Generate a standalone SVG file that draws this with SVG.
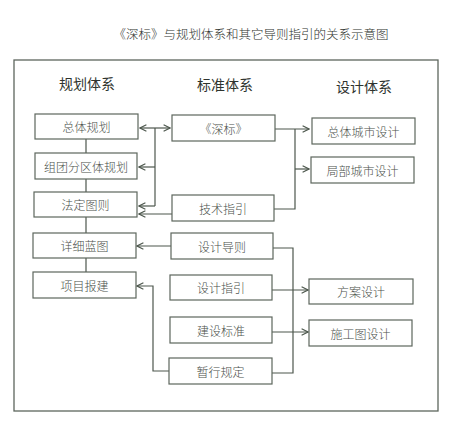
<svg xmlns="http://www.w3.org/2000/svg" width="466" height="427" viewBox="0 0 466 427">
<style>
text{font-family:"Noto Sans CJK SC","Noto Sans CJK JP",sans-serif;text-anchor:middle;dominant-baseline:central;fill:#3e443e}
.t{font-size:12.5px;font-weight:300;fill:#2e332e}
.h{font-size:14px;fill:#2e332e;font-weight:400}
.b{font-size:12px;fill:#4a504a;font-weight:300}
rect.n{fill:#fff;stroke:#5d665d;stroke-width:1.2}
.c path{fill:none;stroke:#4d574d;stroke-width:1.2}
</style>
<defs>
<marker id="a" viewBox="0 0 10 10" refX="9" refY="5" markerWidth="8" markerHeight="8" markerUnits="userSpaceOnUse" orient="auto-start-reverse">
<path d="M1,1 L9,5 L1,9" fill="none" stroke="#4d574d" stroke-width="1.4"/>
</marker>
</defs>
<rect width="466" height="427" fill="#fff"/>
<text class="t" x="251" y="33">《深标》与规划体系和其它导则指引的关系示意图</text>
<rect x="14" y="60" width="424" height="351" fill="none" stroke="#5d665d" stroke-width="1.3"/>
<text class="h" x="87" y="83">规划体系</text>
<text class="h" x="225" y="84">标准体系</text>
<text class="h" x="364" y="86">设计体系</text>
<g class="c">
<path d="M86,139V153M86,179V192M86,217V233M86,258V272"/>
<path d="M140,128H170" marker-start="url(#a)" marker-end="url(#a)"/>
<path d="M155,128V206"/>
<path d="M155,167H139" marker-end="url(#a)"/>
<path d="M155,206H139" marker-end="url(#a)"/>
<path d="M172,214H139" marker-end="url(#a)"/>
<path d="M275,129H309" marker-end="url(#a)"/>
<path d="M274,209H295V129"/>
<path d="M295,169H309" marker-end="url(#a)"/>
<path d="M171,246H137" marker-end="url(#a)"/>
<path d="M169,371H153V286H137" marker-end="url(#a)"/>
<path d="M273,248H293V373H272"/>
<path d="M272,290H308" marker-end="url(#a)"/>
<path d="M272,332H308" marker-end="url(#a)"/>
</g>
<g id="n1"><rect class="n" x="35" y="114" width="103" height="25"/><text class="b" x="86.5" y="126.5">总体规划</text></g>
<g id="n2"><rect class="n" x="35" y="153" width="102" height="26"/><text class="b" x="86" y="166">组团分区体规划</text></g>
<g id="n3"><rect class="n" x="34" y="192" width="103" height="25"/><text class="b" x="85.5" y="204.5">法定图则</text></g>
<g id="n4"><rect class="n" x="33" y="233" width="103" height="25"/><text class="b" x="84.5" y="245.5">详细蓝图</text></g>
<g id="n5"><rect class="n" x="33" y="272" width="103" height="26"/><text class="b" x="84.5" y="285">项目报建</text></g>
<g id="m1"><rect class="n" x="172" y="115" width="103" height="26"/><text class="b" x="223.5" y="128">《深标》</text></g>
<g id="m2"><rect class="n" x="172" y="195" width="102" height="26"/><text class="b" x="223" y="208">技术指引</text></g>
<g id="m3"><rect class="n" x="171" y="233" width="102" height="26"/><text class="b" x="222" y="246">设计导则</text></g>
<g id="m4"><rect class="n" x="170" y="275" width="102" height="25"/><text class="b" x="221" y="287.5">设计指引</text></g>
<g id="m5"><rect class="n" x="170" y="317" width="102" height="26"/><text class="b" x="221" y="330">建设标准</text></g>
<g id="m6"><rect class="n" x="169" y="358" width="103" height="26"/><text class="b" x="220.5" y="371">暂行规定</text></g>
<g id="r1"><rect class="n" x="312" y="118" width="103" height="26"/><text class="b" x="363.5" y="131">总体城市设计</text></g>
<g id="r2"><rect class="n" x="311" y="157" width="103" height="26"/><text class="b" x="362.5" y="170">局部城市设计</text></g>
<g id="r3"><rect class="n" x="309" y="279" width="104" height="25"/><text class="b" x="361" y="291.5">方案设计</text></g>
<g id="r4"><rect class="n" x="309" y="320" width="103" height="26"/><text class="b" x="360.5" y="333">施工图设计</text></g>
</svg>
